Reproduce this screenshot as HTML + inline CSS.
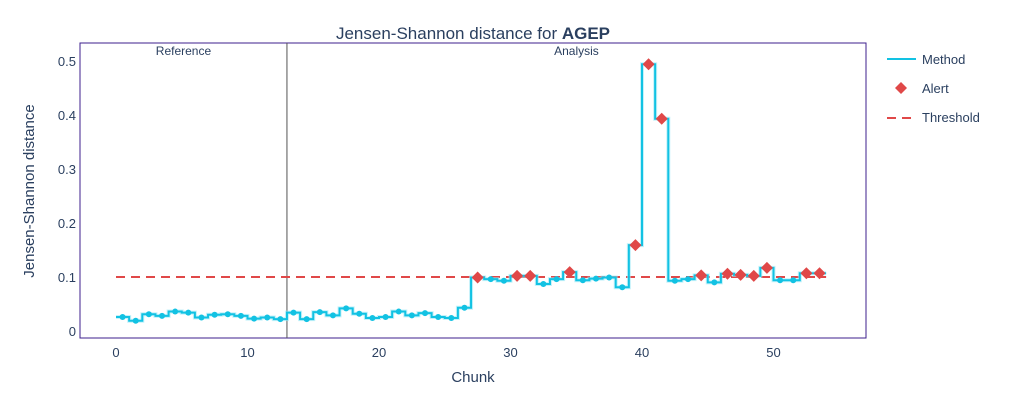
<!DOCTYPE html>
<html><head><meta charset="utf-8"><style>
body{margin:0;background:#fff;font-family:"Liberation Sans",sans-serif}
svg text{font-family:"Liberation Sans",sans-serif;fill:#2a3f5f}
</style></head><body>
<svg id="c" width="1011" height="408" xmlns="http://www.w3.org/2000/svg"></svg>
<script>
const chunks=[];for(let i=0;i<54;i++)chunks.push(i);
const values=[0.026,0.019,0.031,0.028,0.036,0.034,0.025,0.030,0.031,0.028,0.023,0.025,0.022,0.034,0.022,0.035,0.029,0.042,0.032,0.024,0.026,0.036,0.029,0.033,0.026,0.024,0.043,0.099,0.096,0.093,0.102,0.102,0.087,0.096,0.109,0.094,0.097,0.099,0.081,0.159,0.494,0.393,0.093,0.096,0.103,0.090,0.106,0.104,0.102,0.117,0.094,0.094,0.107,0.107];
const alerts=[27,30,31,34,39,40,41,44,46,47,48,49,52,53];
const threshold=0.1;
const xTicks=[0,10,20,30,40,50];
const yTicks=[0,0.1,0.2,0.3,0.4,0.5];
const yTickLabels=["0","0.1","0.2","0.3","0.4","0.5"];
const refEnd=13;
const svg=document.getElementById('c');const NS='http://www.w3.org/2000/svg';
const X=v=>116+v*13.15, Y=v=>331-v*540;
function mk(t,a,p){const e=document.createElementNS(NS,t);for(const k in a)e.setAttribute(k,a[k]);(p||svg).appendChild(e);return e;}
const L=80,R=866,T=43,B=338;
let g=mk('g',{});
yTicks.forEach((v,i)=>{let t=mk('text',{x:L-4,y:Y(v)+5,'text-anchor':'end','font-size':13});t.textContent=yTickLabels[i];});
xTicks.forEach(v=>{let t=mk('text',{x:X(v),y:357,'text-anchor':'middle','font-size':13});t.textContent=v;});
let fr=mk('rect',{x:L,y:T,width:R-L,height:B-T,fill:'none',stroke:'#3d1f8c','stroke-width':1});

let vl=mk('line',{x1:X(refEnd),x2:X(refEnd),y1:T,y2:B,stroke:'#555','stroke-width':1});

let t1=mk('text',{x:(L+X(refEnd))/2,y:55,'text-anchor':'middle','font-size':12});t1.textContent='Reference';
let t2=mk('text',{x:(X(refEnd)+R)/2,y:55,'text-anchor':'middle','font-size':12});t2.textContent='Analysis';
let th=mk('line',{x1:X(0),x2:X(54),y1:Y(threshold),y2:Y(threshold),stroke:'#e04848','stroke-width':2,'stroke-dasharray':'9,6'});

let d='';chunks.forEach((c,i)=>{d+=(i?'L':'M')+X(c)+','+Y(values[i])+'L'+X(c+1)+','+Y(values[i]);});
let ls=mk('path',{d:d,fill:'none',stroke:'#9eeaf7','stroke-width':4,opacity:0.6});
let ln=mk('path',{d:d,fill:'none',stroke:'#12c2e3','stroke-width':2});
chunks.forEach((c,i)=>{let p=mk('circle',{cx:X(c+0.5),cy:Y(values[i]),r:3,fill:'#12c2e3'});});
alerts.forEach(c=>{const x=X(c+0.5),y=Y(values[c]);let p=mk('path',{d:`M${x},${y-6}L${x+6},${y}L${x},${y+6}L${x-6},${y}Z`,fill:'#e04848'});});
let tt=mk('text',{x:473,y:39,'text-anchor':'middle','font-size':17});tt.innerHTML='Jensen-Shannon distance for <tspan font-weight="bold">AGEP</tspan>';
let xt=mk('text',{x:473,y:382,'text-anchor':'middle','font-size':15});xt.textContent='Chunk';
let yt=mk('text',{x:34,y:191,'text-anchor':'middle','font-size':15,transform:'rotate(-90 34 191)'});yt.textContent='Jensen-Shannon distance';
let lg=mk('g',{});
let e1=mk('g',{},lg);
mk('line',{x1:887,x2:916,y1:59,y2:59,stroke:'#12c2e3','stroke-width':2},e1);
let a=mk('text',{x:922,y:64,'font-size':13},e1);a.textContent='Method';
let e2=mk('g',{},lg);
mk('path',{d:'M901,82L907,88L901,94L895,88Z',fill:'#e04848'},e2);
let b=mk('text',{x:922,y:93,'font-size':13},e2);b.textContent='Alert';
let e3=mk('g',{},lg);
mk('line',{x1:887,x2:916,y1:118,y2:118,stroke:'#e04848','stroke-width':2,'stroke-dasharray':'9,6'},e3);
let c=mk('text',{x:922,y:122,'font-size':13},e3);c.textContent='Threshold';
</script>
</body></html>
